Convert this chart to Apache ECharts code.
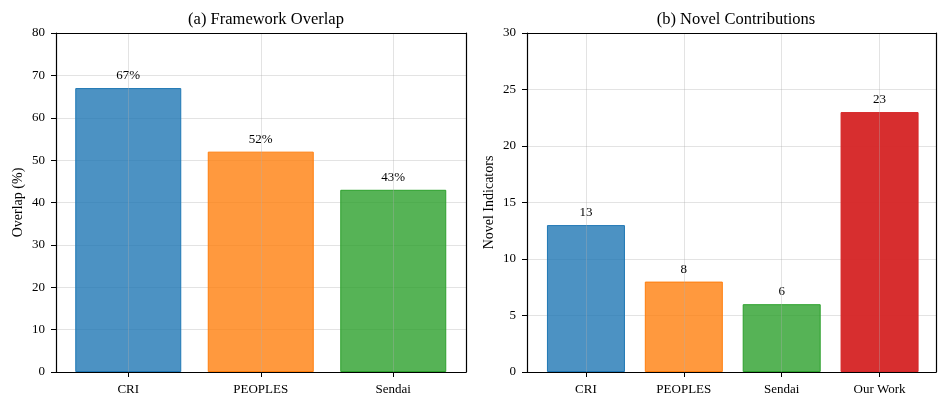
<!DOCTYPE html>
<html><head><meta charset="utf-8">
<script src="https://cdn.jsdelivr.net/npm/echarts@6/dist/echarts.min.js"></script>
<style>html,body{margin:0;padding:0;background:#fff}#c{width:943px;height:399px}</style>
</head><body><div id="c"></div>
<script>
const overlapCats = ['CRI', 'PEOPLES', 'Sendai'];
const overlapVals = [67, 52, 43];
const overlapColors = ['#1f77b4', '#ff7f0e', '#2ca02c'];
const novelCats = ['CRI', 'PEOPLES', 'Sendai', 'Our Work'];
const novelVals = [13, 8, 6, 23];
const novelColors = ['#1f77b4', '#ff7f0e', '#2ca02c', '#d62728'];
const titleA = '(a) Framework Overlap';
const titleB = '(b) Novel Contributions';

const FONT = 'Liberation Serif';
const gridColor = 'rgba(176,176,176,0.35)';
const chart = echarts.init(document.getElementById('c'));

function rgba(hex, a){
  const n = parseInt(hex.slice(1), 16);
  return 'rgba(' + ((n>>16)&255) + ',' + ((n>>8)&255) + ',' + (n&255) + ',' + a + ')';
}
function alphaFor(hex){ return hex === '#d62728' ? 0.97 : 0.8; }
function frameAxesX(gi){
  return [
    {gridIndex: gi, type:'value', min:0, max:1, position:'bottom', z:10,
     axisLine:{show:true, onZero:false, lineStyle:{color:'#000', width:1.2}}, axisTick:{show:false}, axisLabel:{show:false}, splitLine:{show:false}},
    {gridIndex: gi, type:'value', min:0, max:1, position:'top', z:10,
     axisLine:{show:true, onZero:false, lineStyle:{color:'#000', width:1.2}}, axisTick:{show:false}, axisLabel:{show:false}, splitLine:{show:false}}
  ];
}
function catAxis(gi, cats){
  return {gridIndex: gi, type:'category', data: cats, boundaryGap:true,
    axisLine:{show:false}, axisTick:{show:true, alignWithLabel:true, length:5, lineStyle:{color:'#000', width:1}},
    axisLabel:{color:'#000', fontFamily:FONT, fontSize:13, margin:11}, splitLine:{show:false}};
}
function valAxis(gi, max, interval, name){
  return {gridIndex: gi, type:'value', min:0, max:max, interval:interval, position:'left',
    name:name, nameLocation:'middle', nameGap:31, nameTextStyle:{color:'#000', fontFamily:FONT, fontSize:14},
    axisLine:{show:true, onZero:false, lineStyle:{color:'#000', width:1.2}}, axisTick:{show:true, length:5, lineStyle:{color:'#000'}},
    axisLabel:{color:'#000', fontFamily:FONT, fontSize:13, margin:11},
    splitLine:{show:true, lineStyle:{color:gridColor, width:1}}};
}
function rightFrame(gi, max){
  return {gridIndex: gi, type:'value', min:0, max:max, position:'right', z:10,
    axisLine:{show:true, onZero:false, lineStyle:{color:'#000', width:1.2}}, axisTick:{show:false}, axisLabel:{show:false}, splitLine:{show:false}};
}
function hiddenVal(gi, max){
  return {gridIndex: gi, type:'value', min:0, max:max, show:false, splitLine:{show:false}};
}
function barSeries(xi, yi, cats, vals, colors, fmt){
  return {type:'bar', xAxisIndex:xi, yAxisIndex:yi,
    data: vals.map((v,i)=>({value:v, itemStyle:{color:rgba(colors[i], alphaFor(colors[i])), borderColor:colors[i], borderWidth:1}})),
    label:{show:true, position:'top', distance:6, color:'#000', fontFamily:FONT, fontSize:13, formatter:fmt},
    markLine:{silent:true, symbol:'none', label:{show:false},
      lineStyle:{color:'#b0b0b0', opacity:0.35, width:1, type:'solid'},
      data: cats.map(c=>({xAxis:c}))}
  };
}

const sA = barSeries(2, 2, overlapCats, overlapVals, overlapColors, p=>p.value+'%');
sA.barWidth = 106;
const sB = barSeries(5, 5, novelCats, novelVals, novelColors, p=>String(p.value));
sB.barWidth = 78;

chart.setOption({
  animation:false,
  title:[
    {text:titleA, left:261, top:6, textAlign:'center', textStyle:{fontFamily:FONT, fontSize:16.5, fontWeight:'normal', color:'#000'}},
    {text:titleB, left:731, top:6, textAlign:'center', textStyle:{fontFamily:FONT, fontSize:16.5, fontWeight:'normal', color:'#000'}}
  ],
  grid:[
    {left:56, top:33, width:410, height:339},
    {left:62, top:33, width:397.5, height:339},
    {left:527, top:33, width:409, height:339},
    {left:537, top:33, width:391.5, height:339}
  ],
  xAxis:[
    ...frameAxesX(0),
    catAxis(1, overlapCats),
    ...frameAxesX(2),
    catAxis(3, novelCats)
  ],
  yAxis:[
    valAxis(0, 80, 10, 'Overlap (%)'),
    rightFrame(0, 80),
    hiddenVal(1, 80),
    valAxis(2, 30, 5, 'Novel Indicators'),
    rightFrame(2, 30),
    hiddenVal(3, 30)
  ],
  series:[sA, sB]
});
</script></body></html>
